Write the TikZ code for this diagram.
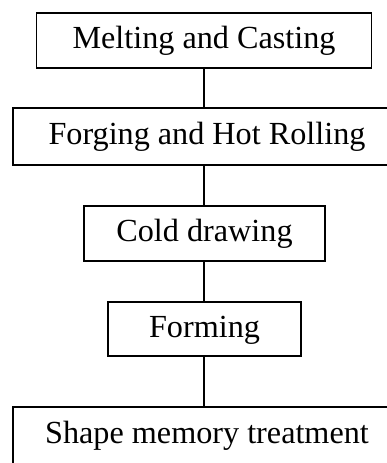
\documentclass[tikz,border=0pt]{standalone}
\usepackage{fontspec}
\setmainfont{Liberation Serif}
\begin{document}
\begin{tikzpicture}[x=1pt,y=-1pt,
  stagebox/.style={draw, line width=1.8pt, inner sep=0pt, font=\fontsize{32.2}{36}\selectfont, text height=22pt, text depth=6pt},
  link/.style={line width=1.8pt}]
\clip (0,0) rectangle (387,463);
\fill[white] (0,0) rectangle (387,463);
\node[stagebox, minimum width=335pt, minimum height=55pt] (b1) at (204,40.5) {Melting and Casting};
\node[stagebox, minimum width=388pt, minimum height=57pt] (b2) at (207,136.5) {Forging and Hot Rolling};
\node[stagebox, minimum width=241pt, minimum height=55pt] (b3) at (204.5,233.5) {Cold drawing};
\node[stagebox, minimum width=193pt, minimum height=54pt] (b4) at (204.5,329) {Forming};
\node[stagebox, minimum width=388pt, minimum height=64pt, text height=22pt, text depth=14pt] (b5) at (207,439) {Shape memory treatment};
\draw[link] (b1.south) -- (b1.south |- b2.north);
\draw[link] (b2.south -| b1.south) -- (b3.north -| b1.south);
\draw[link] (b3.south -| b1.south) -- (b4.north -| b1.south);
\draw[link] (b4.south -| b1.south) -- (b5.north -| b1.south);
\end{tikzpicture}
\end{document}
